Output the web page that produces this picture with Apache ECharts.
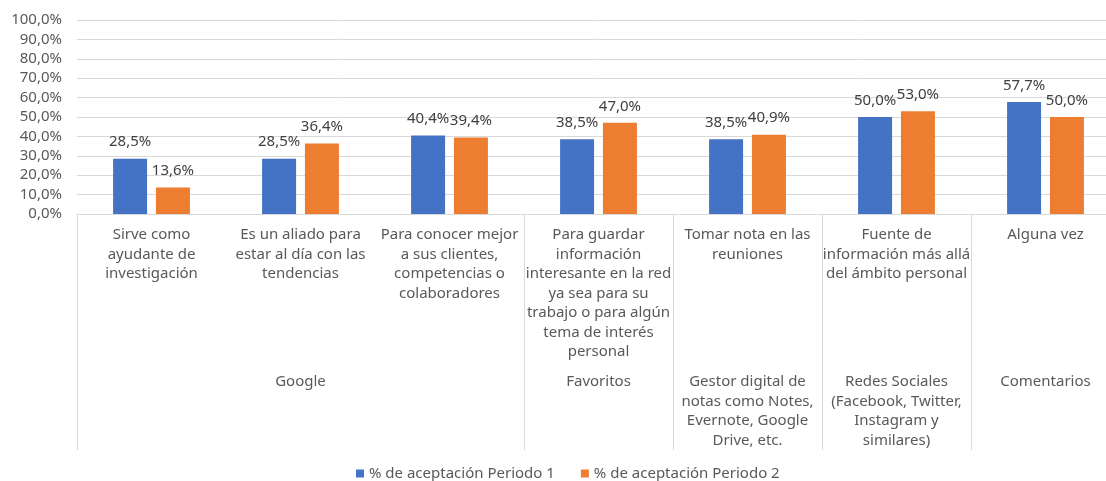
<!DOCTYPE html>
<html>
<head>
<meta charset="utf-8">
<script src="https://cdn.jsdelivr.net/npm/echarts@6/dist/echarts.min.js"></script>
<style>
  html, body { margin: 0; padding: 0; background: #fff; overflow: hidden; }
  /* the plot runs past the right edge of the window, as in the reference */
  #chart { width: 1120px; height: 481px; }
</style>
</head>
<body>
<div id="chart"></div>
<script>
// inner categories (first level of the axis)
const categories = [
  'Sirve como\nayudante de\ninvestigación',
  'Es un aliado para\nestar al día con las\ntendencias',
  'Para conocer mejor\na sus clientes,\ncompetencias o\ncolaboradores',
  'Para guardar\ninformación\ninteresante en la red\nya sea para su\ntrabajo o para algún\ntema de interés\npersonal',
  'Tomar nota en las\nreuniones',
  'Fuente de\ninformación más allá\ndel ámbito personal',
  'Alguna vez'
];
// outer groups, label placed under the middle category of each group
const groupLabels = [
  '', 'Google', '', 'Favoritos',
  'Gestor digital de\nnotas como Notes,\nEvernote, Google\nDrive, etc.',
  'Redes Sociales\n(Facebook, Twitter,\nInstagram y\nsimilares)',
  'Comentarios'
];
const groupStarts = [0, 3, 4, 5, 6];

const seriesNames = ['% de aceptación Periodo 1', '% de aceptación Periodo 2'];
const periodo1 = [28.5, 28.5, 40.4, 38.5, 38.5, 50.0, 57.7];
const periodo2 = [13.6, 36.4, 39.4, 47.0, 40.9, 53.0, 50.0];

const fmt = v => v.toFixed(1).replace('.', ',') + '%';
const font = '"Noto Sans", sans-serif';
const fs = 15;
const textColor = '#595959';
const lineColor = '#d9d9d9';

const chart = echarts.init(document.getElementById('chart'));

const option = {
  animation: false,
  textStyle: { fontFamily: font },
  legend: {
    data: seriesNames,
    top: 461,
    left: 351,
    icon: 'rect',
    itemWidth: 8,
    itemHeight: 8,
    itemGap: 26,
    textStyle: { color: textColor, fontSize: fs, fontFamily: font }
  },
  grid: {
    left: 77,
    right: 0,
    top: 20,
    bottom: 267
  },
  xAxis: [
    {
      type: 'category',
      data: categories,
      axisLine: { lineStyle: { color: lineColor } },
      axisTick: {
        show: true,
        interval: (i) => groupStarts.includes(i),
        length: 236,
        lineStyle: { color: lineColor }
      },
      axisLabel: {
        interval: 0,
        margin: 11,
        color: textColor,
        fontSize: fs,
        lineHeight: 19.5,
        fontFamily: font
      }
    },
    {
      type: 'category',
      data: groupLabels,
      position: 'bottom',
      axisLine: { show: false },
      axisTick: { show: false },
      axisLabel: {
        interval: 0,
        margin: 158,
        color: textColor,
        fontSize: fs,
        lineHeight: 19.5,
        fontFamily: font
      }
    }
  ],
  yAxis: {
    type: 'value',
    min: 0,
    max: 100,
    interval: 10,
    axisLine: { show: false },
    axisTick: { show: false },
    splitLine: { lineStyle: { color: lineColor } },
    axisLabel: {
      formatter: fmt,
      margin: 15,
      color: textColor,
      fontSize: fs,
      fontFamily: font
    }
  },
  series: [
    {
      name: seriesNames[0],
      type: 'bar',
      data: periodo1,
      barWidth: 34,
      barGap: '26%',
      itemStyle: { color: '#4472C4' },
      label: {
        show: true,
        position: 'top',
        distance: 9,
        formatter: p => fmt(p.value),
        color: '#404040',
        fontSize: fs,
        fontFamily: font
      }
    },
    {
      name: seriesNames[1],
      type: 'bar',
      data: periodo2,
      barWidth: 34,
      barGap: '26%',
      itemStyle: { color: '#ED7D31' },
      label: {
        show: true,
        position: 'top',
        distance: 9,
        formatter: p => fmt(p.value),
        color: '#404040',
        fontSize: fs,
        fontFamily: font
      }
    }
  ]
};

chart.setOption(option);
window.addEventListener('resize', () => chart.resize());
</script>
</body>
</html>
